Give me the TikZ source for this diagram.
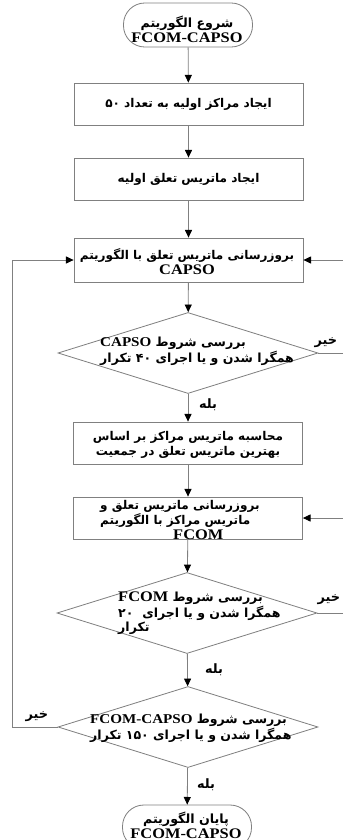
\documentclass[tikz,border=0pt]{standalone}
\usepackage{fontspec}
\usetikzlibrary{arrows.meta,shapes.geometric}
\TeXXeTstate=1
\newfontfamily\farsi[Script=Arabic]{DejaVu Sans}
\newfontfamily\lat[FakeStretch=1.12]{Liberation Serif}
\newcommand\fa[1]{{\farsi\bfseries\beginR #1\endR}}
\newcommand\la[1]{\beginL{\lat\bfseries\fontsize{12.5}{12}\selectfont #1}\endL}
\newcommand\las[1]{\beginL{\lat\bfseries\fontsize{11.5}{12}\selectfont #1}\endL}
\tikzset{
  px/.style={x={(0.03cm,0)},y={(0,-0.03cm)}},
  line/.style={draw=black!50,line width=0.7pt},
  arr/.style={line,-{Triangle[length=6.5pt,width=6pt,fill=black,color=black]}},
  procbox/.style={draw=black!50,line width=0.7pt,rectangle,minimum width=229*0.03cm,minimum height=42*0.03cm,inner sep=0pt},
  termbox/.style={draw=black!50,line width=0.7pt,rectangle,rounded corners=0.64cm,minimum width=129*0.03cm,minimum height=44*0.03cm,inner sep=0pt},
  decbox/.style={draw=black!50,line width=0.7pt,diamond,minimum width=260*0.03cm,minimum height=81*0.03cm,inner sep=0pt},
  txt/.style={inner sep=0pt,font=\fontsize{10.3}{12.8}\selectfont},
  dtxt/.style={inner sep=0pt,font=\fontsize{10.7}{11.8}\selectfont},
  ttxt/.style={inner sep=0pt,font=\fontsize{10.8}{12.8}\selectfont},
  lbl/.style={inner sep=0pt,font=\fontsize{11}{12}\selectfont},
}
\begin{document}
\begin{tikzpicture}[px]
\useasboundingbox (0,0) rectangle (343,840);
\clip (0,0) rectangle (343,840);
% nodes
\node[termbox] (start) at (188,25) {};
\node[ttxt,align=center] (startt) at (187,29) {\fa{شروع الگوریتم}\\\la{FCOM-CAPSO}};
\node[procbox,txt] (b1) at (188.5,104) {\fa{ایجاد مراکز اولیه به تعداد ۵۰}};
\node[procbox,txt] (b2) at (188.5,179) {\fa{ایجاد ماتریس تعلق اولیه}};
\node[procbox,minimum height=44*0.03cm] (b3) at (188.5,260) {};
\node[txt,align=center] (b3t) at (187,261.5) {\fa{بروزرسانی ماتریس تعلق با الگوریتم}\\\la{CAPSO}};
\node[decbox] (d1) at (188,353) {};
\node[dtxt,align=left,anchor=west] (d1t) at (100,351) {\fa{بررسی شروط \las{CAPSO}}\\\fa{همگرا شدن و یا اجرای ۴۰ تکرار}};
\node[procbox] (b4) at (188,443) {};
\node[txt,align=center] (b4t) at (188,445) {\fa{محاسبه ماتریس مراکز بر اساس}\\\fa{بهترین ماتریس تعلق در جمعیت}};
\node[procbox] (b5) at (188,518) {};
\node[txt,align=left,anchor=west] (b5t) at (100,520) {\fa{بروزرسانی ماتریس تعلق و}\\\fa{ماتریس مراکز با الگوریتم}\\\hspace*{2.19cm}\la{FCOM}};
\node[decbox] (d2) at (187,613) {};
\node[dtxt,align=left,anchor=west] (d2t) at (118,613) {\fa{بررسی شروط \la{FCOM}}\\\fa{همگرا شدن و یا اجرای\ \ ۲۰}\\\fa{تکرار}};
\node[decbox] (d3) at (188,727) {};
\node[dtxt,align=left,anchor=west] (d3t) at (90,728) {\fa{بررسی شروط \las{FCOM-CAPSO}}\\\fa{همگرا شدن و یا اجرای ۱۵۰ تکرار}};
\node[termbox] (end) at (187,827) {};
\node[ttxt,align=center] (endt) at (186,825) {\fa{پایان الگوریتم}\\\la{FCOM-CAPSO}};
% labels
\node[lbl] (n1) at (326,343) {\fa{خیر}};
\node[lbl] (y1) at (208,405) {\fa{بله}};
\node[lbl] (n2) at (329,600) {\fa{خیر}};
\node[lbl] (y2) at (214,670) {\fa{بله}};
\node[lbl] (n3) at (37,717) {\fa{خیر}};
\node[lbl] (y3) at (206,785) {\fa{بله}};
% loop corners
\coordinate (r1) at (360,353);
\coordinate (r1t) at (360,260);
\coordinate (r2) at (360,613);
\coordinate (r2t) at (360,518);
\coordinate (l3) at (12,727);
\coordinate (l3t) at (12,260);
% connectors
\draw[arr] (start) -- (b1);
\draw[arr] (b1) -- (b2);
\draw[arr] (b2) -- (b3);
\draw[arr] (b3) -- (d1);
\draw[arr] (d1) -- (b4);
\draw[arr] (b4) -- (b5);
\draw[arr] (b5) -- (d2);
\draw[arr] (d2) -- (d3);
\draw[arr] (d3) -- (end);
\draw[arr] (d1.east) -- (r1) -- (r1t) -- (b3.east);
\draw[arr] (d2.east) -- (r2) -- (r2t) -- (b5.east);
\draw[arr] (d3.west) -- (l3) -- (l3t) -- (b3.west);
\end{tikzpicture}
\end{document}
